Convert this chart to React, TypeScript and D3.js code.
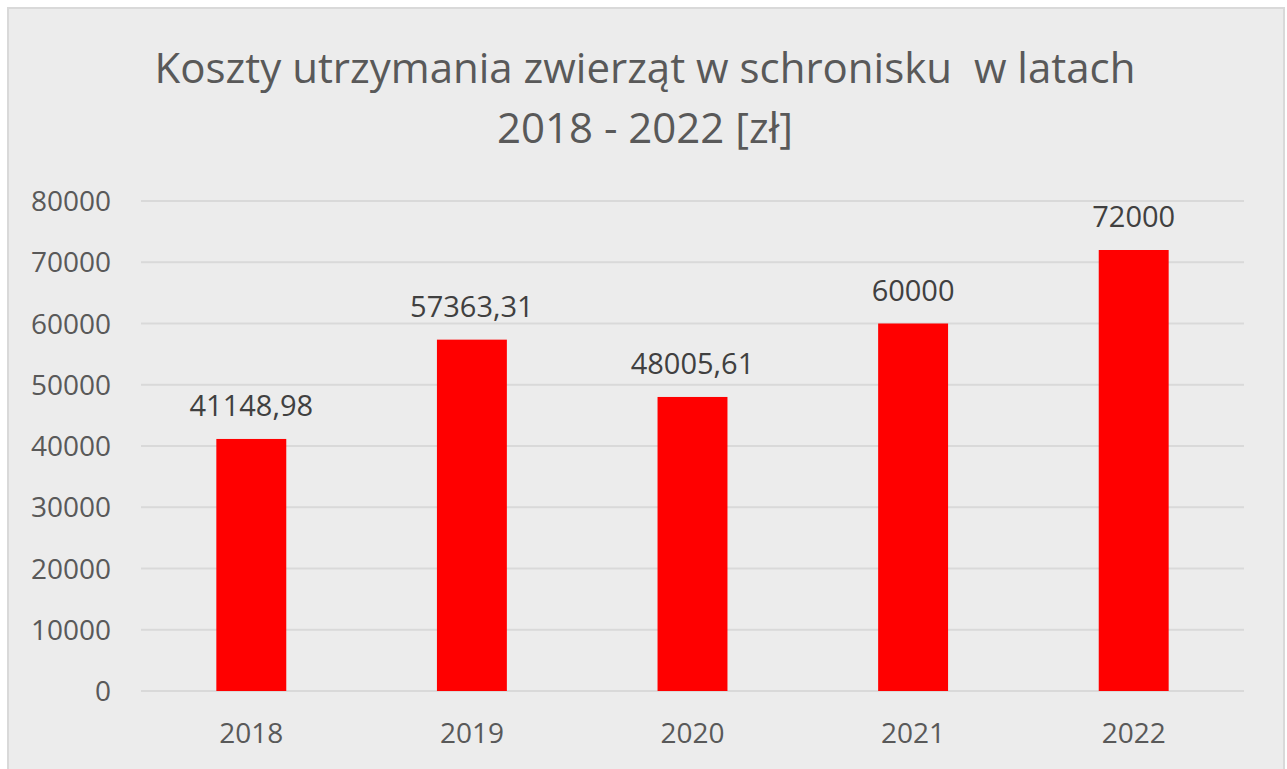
import React from 'react';
import * as d3 from 'd3';

const years = ['2018', '2019', '2020', '2021', '2022'];
const costs = [41148.98, 57363.31, 48005.61, 60000, 72000];
const costLabels = ['41148,98', '57363,31', '48005,61', '60000', '72000'];
const yTicks = [0, 10000, 20000, 30000, 40000, 50000, 60000, 70000, 80000];
const titleLines = ['Koszty utrzymania zwierząt w schronisku\u00a0 w latach', '2018 - 2022 [zł]'];

const W = 1287;
const H = 769;
const font = "'Open Sans', 'Noto Sans', sans-serif";
const textColor = '#595959';

export default function App() {
    const x = d3.scaleBand<string>().domain(years).range([141, 1244]).paddingInner(0.683).paddingOuter(0.3415);
    const y = d3.scaleLinear().domain([0, 80000]).range([691, 201]);

    return (
        <svg width={W} height={H} style={{ position: 'absolute', left: 0, top: 0 }}>
            <rect x={0} y={0} width={W} height={H} fill="#ffffff" />
            <rect x={8} y={8} width={1276} height={H} fill="#ececec" stroke="#d9d9d9" strokeWidth={2} />

            {titleLines.map((t, i) => (
                <text key={i} x={645} y={83 + i * 60} textAnchor="middle" fontFamily={font}
                    fontSize={42} fill={textColor}>{t}</text>
            ))}

            {yTicks.map(t => (
                <g key={t}>
                    <line x1={141} x2={1244} y1={y(t)} y2={y(t)} stroke="#d9d9d9" strokeWidth={2} />
                    <text x={111} y={y(t) + 10} textAnchor="end" fontFamily={font} fontSize={28} fill={textColor}>{t}</text>
                </g>
            ))}

            {years.map((yr, i) => (
                <g key={yr}>
                    <rect x={x(yr)} y={y(costs[i])} width={x.bandwidth()} height={y(0) - y(costs[i])} fill="#ff0000" />
                    <text x={(x(yr) || 0) + x.bandwidth() / 2} y={y(costs[i]) - 23} textAnchor="middle"
                        fontFamily={font} fontSize={29} fill="#404040">{costLabels[i]}</text>
                    <text x={(x(yr) || 0) + x.bandwidth() / 2} y={743} textAnchor="middle"
                        fontFamily={font} fontSize={28} fill={textColor}>{yr}</text>
                </g>
            ))}
        </svg>
    );
}
